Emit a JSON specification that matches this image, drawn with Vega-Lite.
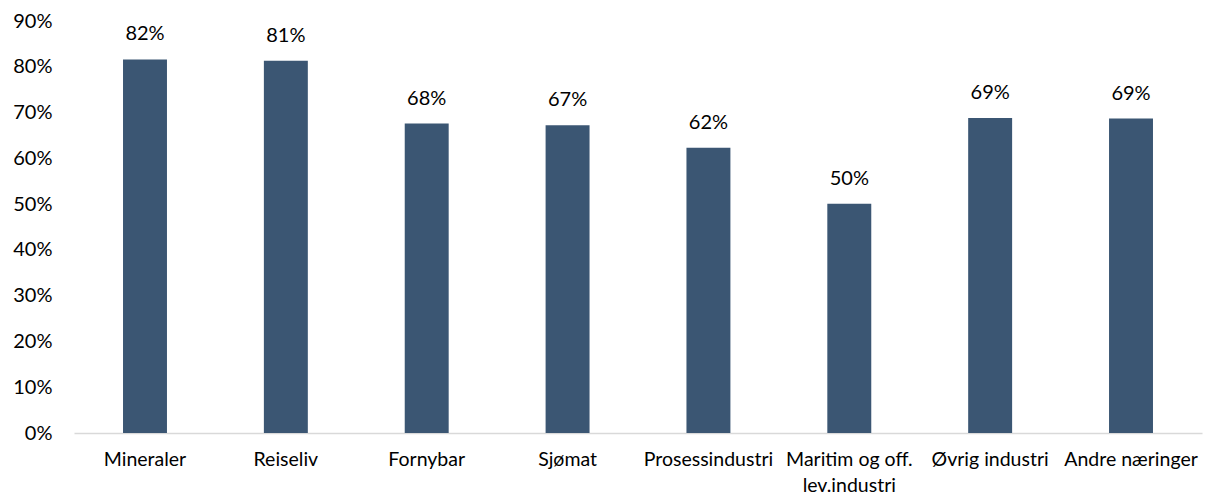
{
  "$schema": "https://vega.github.io/schema/vega-lite/v6.json",
  "width": 1128,
  "height": 412,
  "autosize": "none",
  "padding": {"left": 74, "top": 21, "right": 9, "bottom": 63},
  "background": "white",
  "config": {"view": {"stroke": null}, "font": "Lato"},
  "data": {"values": [
    {"naering": "Mineraler", "andel": 81.6, "label": "82%"},
    {"naering": "Reiseliv", "andel": 81.3, "label": "81%"},
    {"naering": "Fornybar", "andel": 67.6, "label": "68%"},
    {"naering": "Sjømat", "andel": 67.2, "label": "67%"},
    {"naering": "Prosessindustri", "andel": 62.3, "label": "62%"},
    {"naering": "Maritim og off. lev.industri", "andel": 50.1, "label": "50%"},
    {"naering": "Øvrig industri", "andel": 68.8, "label": "69%"},
    {"naering": "Andre næringer", "andel": 68.7, "label": "69%"}
  ]},
  "encoding": {
    "x": {"field": "naering", "type": "nominal", "sort": null, "title": null,
      "scale": {"paddingInner": 0.688, "paddingOuter": 0.348},
      "axis": {"labelAngle": 0, "labelFontSize": 19.5, "labelColor": "#000000", "labelPadding": 17,
        "ticks": false, "domainColor": "#d9d9d9", "domainWidth": 1.5,
        "labelExpr": "datum.value == 'Maritim og off. lev.industri' ? ['Maritim og off.', 'lev.industri'] : datum.value",
        "labelLineHeight": 26}},
    "y": {"field": "andel", "type": "quantitative", "title": null,
      "scale": {"domain": [0, 90]},
      "axis": {"values": [0,10,20,30,40,50,60,70,80,90], "labelExpr": "datum.value + '%'",
        "grid": false, "domain": false, "ticks": false, "labelFontSize": 20, "labelColor": "#000000", "labelPadding": 22}}
  },
  "layer": [
    {"mark": {"type": "bar", "color": "#3B5673"}},
    {"mark": {"type": "text", "baseline": "alphabetic", "dy": -19, "fontSize": 20, "color": "#000000"},
      "encoding": {"text": {"field": "label"}}}
  ]
}
